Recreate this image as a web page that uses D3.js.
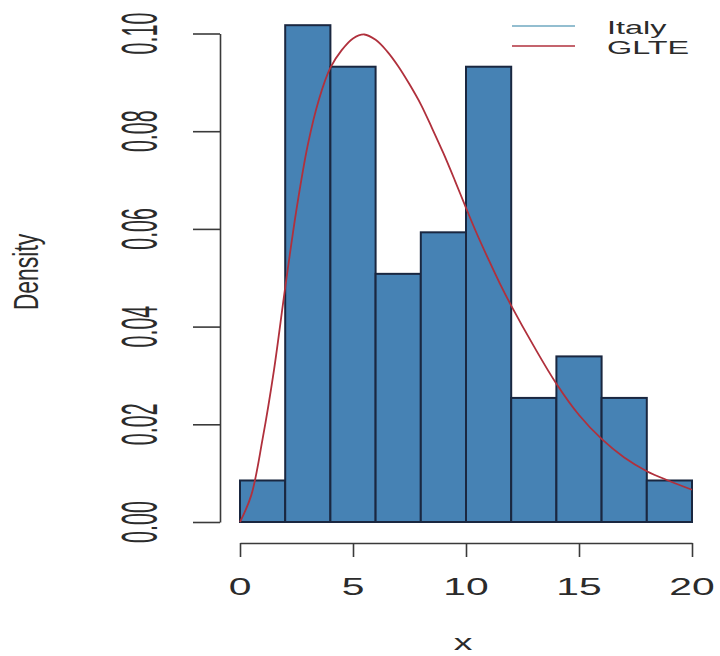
<!DOCTYPE html>
<html>
<head>
<meta charset="utf-8">
<script src="https://cdn.jsdelivr.net/npm/d3@7"></script>
<style>
  html, body { margin: 0; padding: 0; background: #fff; }
  svg { display: block; }
  text { font-family: "Liberation Sans", Arial, Helvetica, sans-serif; fill: #2b2b2b; }
</style>
</head>
<body>
<svg id="chart" width="720" height="656"></svg>
<script>
// Histogram bins (width 2) and their densities
const binStarts = [0, 2, 4, 6, 8, 10, 12, 14, 16, 18];
const binWidth = 2;
const densities = [0.0085, 0.1017, 0.0932, 0.0508, 0.0593, 0.0932, 0.0254, 0.0339, 0.0254, 0.0085];

// Fitted GLTE density curve
const curveX = [0, 0.5, 1.0, 1.5, 2.0, 2.5, 3.0, 3.5, 4.0, 4.5, 5.0, 5.5, 6.0, 6.5, 7.0, 7.5, 8.0, 8.5, 9.0, 9.5, 10.0, 10.5, 11.0, 11.5, 12.0, 13.0, 14.0, 15.0, 16.0, 17.0, 18.0, 19.0, 20.0];
const curveY = [0, 0.0055, 0.017, 0.031, 0.048, 0.064, 0.0772, 0.0866, 0.093, 0.0966, 0.099, 0.0998, 0.0987, 0.0964, 0.0933, 0.0896, 0.0855, 0.0806, 0.0755, 0.0700, 0.0643, 0.0588, 0.0537, 0.0488, 0.0443, 0.0360, 0.0283, 0.0219, 0.0170, 0.0132, 0.0104, 0.0084, 0.0066];

// Axis ticks and labels
const xTicks = [0, 5, 10, 15, 20];
const yTicks = [0, 0.02, 0.04, 0.06, 0.08, 0.10];
const yTickLabels = ["0.00", "0.02", "0.04", "0.06", "0.08", "0.10"];

// Legend
const legendLabels = ["Italy", "GLTE"];
const legendColors = ["#6fa8c0", "#b0303c"];

const svg = d3.select("#chart");

const x = d3.scaleLinear().domain([0, 20]).range([240, 692]);
const y = d3.scaleLinear().domain([0, 0.10]).range([522, 33.5]);

// Bars
svg.append("g")
  .selectAll("rect")
  .data(binStarts.map((s, i) => ({ s, d: densities[i] })))
  .join("rect")
  .attr("x", d => x(d.s))
  .attr("y", d => y(d.d))
  .attr("width", d => x(d.s + binWidth) - x(d.s))
  .attr("height", d => y(0) - y(d.d))
  .attr("fill", "#4682b4")
  .attr("stroke", "#1a2740")
  .attr("stroke-width", 2);

// Density curve
const line = d3.line()
  .x(d => x(d[0]))
  .y(d => y(d[1]))
  .curve(d3.curveCatmullRom.alpha(0.5));
svg.append("path")
  .datum(curveX.map((v, i) => [v, curveY[i]]))
  .attr("d", line)
  .attr("fill", "none")
  .attr("stroke", legendColors[1])
  .attr("stroke-width", 1.8);

// Y axis (R style: line spans the ticks, long ticks)
const yAxis = svg.append("g")
  .attr("transform", "translate(220,0)")
  .call(d3.axisLeft(y).tickValues(yTicks).tickSize(27).tickSizeOuter(0).tickFormat(""));
yAxis.selectAll("path, line").attr("stroke", "#3a3a3a").attr("stroke-width", 1.6);

// X axis
const xAxis = svg.append("g")
  .attr("transform", "translate(0,543)")
  .call(d3.axisBottom(x).tickValues(xTicks).tickSize(14).tickSizeOuter(0).tickFormat(""));
xAxis.selectAll("path, line").attr("stroke", "#3a3a3a").attr("stroke-width", 1.6);

// Tick labels (horizontally widened lettering)
svg.append("g")
  .selectAll("text")
  .data(xTicks)
  .join("text")
  .attr("transform", d => `translate(${x(d)},595) scale(1.7,1)`)
  .attr("text-anchor", "middle")
  .attr("font-size", 24)
  .text(d => d);

svg.append("g")
  .selectAll("text")
  .data(yTicks)
  .join("text")
  .attr("transform", d => `translate(157,${y(d)}) rotate(-90) scale(1,2.3)`)
  .attr("text-anchor", "middle")
  .attr("font-size", 21.5)
  .text((d, i) => yTickLabels[i]);

// Axis titles
svg.append("text")
  .attr("transform", "translate(38,272) rotate(-90) scale(1,1.55)")
  .attr("text-anchor", "middle")
  .attr("font-size", 23)
  .text("Density");

svg.append("text")
  .attr("transform", "translate(463,650) scale(1.7,1)")
  .attr("text-anchor", "middle")
  .attr("font-size", 22)
  .text("x");

// Legend
const leg = svg.append("g");
legendLabels.forEach((lab, i) => {
  const ly = 26 + i * 20;
  leg.append("line")
    .attr("x1", 512).attr("x2", 575)
    .attr("y1", ly).attr("y2", ly)
    .attr("stroke", legendColors[i])
    .attr("stroke-width", 1.6);
  leg.append("text")
    .attr("transform", `translate(607,${ly + 8}) scale(1.8,1)`)
    .attr("font-size", 18)
    .text(lab);
});
</script>
</body>
</html>
